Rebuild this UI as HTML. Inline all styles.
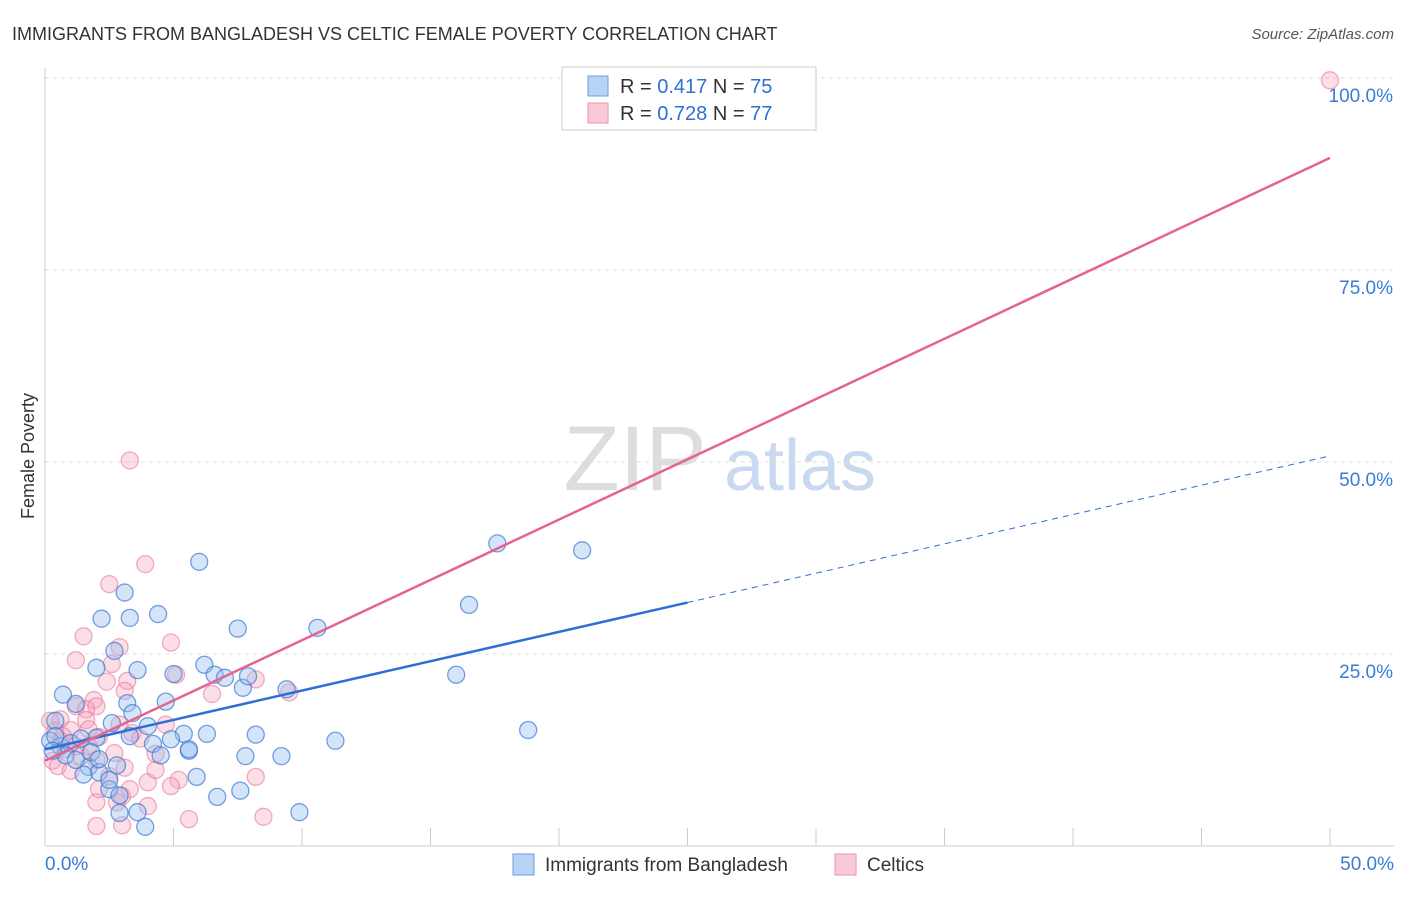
<!DOCTYPE html>
<html><head><meta charset="utf-8"><style>
body{margin:0;background:#fff;font-family:"Liberation Sans",sans-serif;}
svg text{font-family:"Liberation Sans",sans-serif;}
</style></head><body>
<svg width="1406" height="892" xmlns="http://www.w3.org/2000/svg">
<text x="12" y="40" font-size="18" fill="#333">IMMIGRANTS FROM BANGLADESH VS CELTIC FEMALE POVERTY CORRELATION CHART</text>
<text x="1394" y="39" font-size="15" font-style="italic" fill="#555" text-anchor="end">Source: ZipAtlas.com</text>
<text x="34" y="456" font-size="18" fill="#333" text-anchor="middle" transform="rotate(-90 34 456)">Female Poverty</text>
<g>
<text x="635" y="490" font-size="92" font-family="Liberation Serif" fill="#ddd" text-anchor="middle">ZIP</text>
<text x="800" y="490" font-size="72" fill="#c9d9f0" text-anchor="middle">atlas</text>
</g>
<g id="grid"></g>
<g id="axes"></g>
<g id="pts"></g>
<g id="lines"></g>
<g>
<rect x="562" y="67" width="254" height="63" fill="#fff" stroke="#ccc"/>
<rect x="588" y="76" width="20" height="20" fill="#b8d3f5" stroke="#6a9ee0"/>
<rect x="588" y="103" width="20" height="20" fill="#f9c9d7" stroke="#eb92ac"/>
<text x="620" y="93" font-size="20" fill="#333">R = <tspan fill="#2d6fd6">0.417</tspan>   N = <tspan fill="#2d6fd6">75</tspan></text>
<text x="620" y="120" font-size="20" fill="#333">R = <tspan fill="#2d6fd6">0.728</tspan>   N = <tspan fill="#2d6fd6">77</tspan></text>
</g>
<g>
<rect x="513" y="854" width="21" height="21" fill="#b8d3f5" stroke="#6a9ee0"/>
<text x="545" y="871" font-size="19" fill="#333">Immigrants from Bangladesh</text>
<rect x="835" y="854" width="21" height="21" fill="#f9c9d7" stroke="#eb92ac"/>
<text x="867" y="871" font-size="19" fill="#333">Celtics</text>
</g>
</svg>
<script>
const yTicks=[25,50,75,100];
const yTickLabels=["25.0%","50.0%","75.0%","100.0%"];
const xTickLabels=["0.0%","50.0%"];
const bluePts=[[6.0,37.0],[17.6,39.4],[20.9,38.5],[16.5,31.4],[3.1,33.0],[2.2,29.6],[3.3,29.7],[4.4,30.2],[7.5,28.3],[10.6,28.4],[2.7,25.4],[2.0,23.2],[3.6,22.9],[5.0,22.4],[6.2,23.6],[6.6,22.3],[7.0,21.9],[7.7,20.6],[7.9,22.1],[9.4,20.4],[16.0,22.3],[0.7,19.7],[1.2,18.5],[3.2,18.6],[3.4,17.3],[4.7,18.8],[2.6,16.0],[4.0,15.6],[5.4,14.6],[6.3,14.6],[8.2,14.5],[11.3,13.7],[18.8,15.1],[2.0,14.1],[3.3,14.3],[4.2,13.3],[5.6,12.4],[4.5,11.8],[7.8,11.7],[9.2,11.7],[5.9,9.0],[1.7,10.3],[2.1,9.6],[1.5,9.3],[2.8,10.5],[2.5,7.4],[6.7,6.4],[7.6,7.2],[2.9,4.3],[3.6,4.4],[9.9,4.4],[3.9,2.5],[0.4,16.3],[0.2,13.7],[0.6,13.0],[1.0,13.4],[1.4,14.0],[0.8,11.8],[1.2,11.2],[1.8,12.2],[0.4,14.3],[0.3,12.4],[2.9,6.6],[2.5,8.6],[2.1,11.3],[4.9,13.9],[5.6,12.6]];
const pinkPts=[[50.0,99.7],[3.3,50.2],[3.9,36.7],[2.5,34.1],[1.5,27.3],[4.9,26.5],[2.9,25.9],[1.2,24.2],[2.6,23.7],[5.1,22.3],[2.4,21.4],[3.2,21.5],[3.1,20.2],[6.5,19.8],[8.2,21.7],[9.5,20.0],[1.9,19.0],[2.0,18.2],[1.2,18.2],[1.6,17.8],[0.6,16.5],[1.6,16.4],[2.1,14.2],[2.9,15.8],[1.0,15.1],[4.7,15.8],[3.4,14.7],[4.3,12.0],[2.7,12.1],[2.0,11.2],[3.1,10.2],[4.0,8.3],[5.2,8.6],[4.9,7.8],[8.2,9.0],[2.0,5.7],[2.8,5.7],[4.0,5.2],[5.6,3.5],[2.0,2.6],[3.0,2.7],[8.5,3.8],[0.2,16.3],[0.4,15.0],[0.6,13.7],[0.8,12.6],[0.3,11.1],[0.5,10.4],[1.0,9.8],[1.4,11.7],[1.7,13.0],[2.5,9.1],[3.0,6.5],[2.1,7.4],[0.7,14.3],[1.2,13.0],[1.7,15.2],[3.7,14.0],[3.3,7.4],[4.3,9.9]];
const blueFit=[12.6,50.8];
const pinkFit=[11.1,89.6];
const blueSolidEnd=25;
const NS="http://www.w3.org/2000/svg";
const X=v=>45+v*25.7, Y=v=>846-v*7.68;
function mk(t,a,p){const e=document.createElementNS(NS,t);for(const k in a)e.setAttribute(k,a[k]);p.appendChild(e);return e;}
const grid=document.getElementById('grid'),axes=document.getElementById('axes'),pts=document.getElementById('pts'),lines=document.getElementById('lines');
yTicks.forEach((v,i)=>{
 const l=mk('line',{x1:45,x2:1394,y1:Y(v),y2:Y(v),stroke:'#ddd','stroke-dasharray':'4,4'},grid);
 
 
 const t=mk('text',{x:1393,y:Y(v)+24,'font-size':19,fill:'#3a7bd5','text-anchor':'end'},axes);
 t.textContent=yTickLabels[i];
 
 
});
const ax=mk('line',{x1:45,x2:1394,y1:846,y2:846,stroke:'#ccc'},axes);


const ay=mk('line',{x1:45,x2:45,y1:68,y2:846,stroke:'#ccc'},axes);


for(let i=1;i<=10;i++){const tk=mk('line',{x1:X(i*5),x2:X(i*5),y1:828,y2:846,stroke:'#ccc'},axes);
 
 }
[[0,'start',45],[50,'end',1394]].forEach((d,i)=>{const t=mk('text',{x:d[2],y:870,'font-size':19,fill:'#3a7bd5','text-anchor':d[1]},axes);t.textContent=xTickLabels[i];
 
 });
pinkPts.forEach(p=>{const c=mk('circle',{cx:X(p[0]),cy:Y(p[1]),r:8.5,fill:'rgba(245,160,185,0.35)',stroke:'rgba(232,120,155,0.6)','stroke-width':1.3},pts);
 
 });
bluePts.forEach(p=>{const c=mk('circle',{cx:X(p[0]),cy:Y(p[1]),r:8.5,fill:'rgba(150,190,240,0.4)',stroke:'rgba(60,120,210,0.7)','stroke-width':1.3},pts);
 
 });
const bAt=x=>blueFit[0]+(blueFit[1]-blueFit[0])*x/50;
const b1=mk('line',{x1:X(0),y1:Y(bAt(0)),x2:X(blueSolidEnd),y2:Y(bAt(blueSolidEnd)),stroke:'#2d6fd6','stroke-width':2.5},lines);


const b2=mk('line',{x1:X(blueSolidEnd),y1:Y(bAt(blueSolidEnd)),x2:X(50),y2:Y(bAt(50)),stroke:'#2d6fd6','stroke-width':1,'stroke-dasharray':'6,5'},lines);


const p1=mk('line',{x1:X(0),y1:Y(pinkFit[0]),x2:X(50),y2:Y(pinkFit[1]),stroke:'#e5648f','stroke-width':2.5},lines);


</script>
</body></html>
